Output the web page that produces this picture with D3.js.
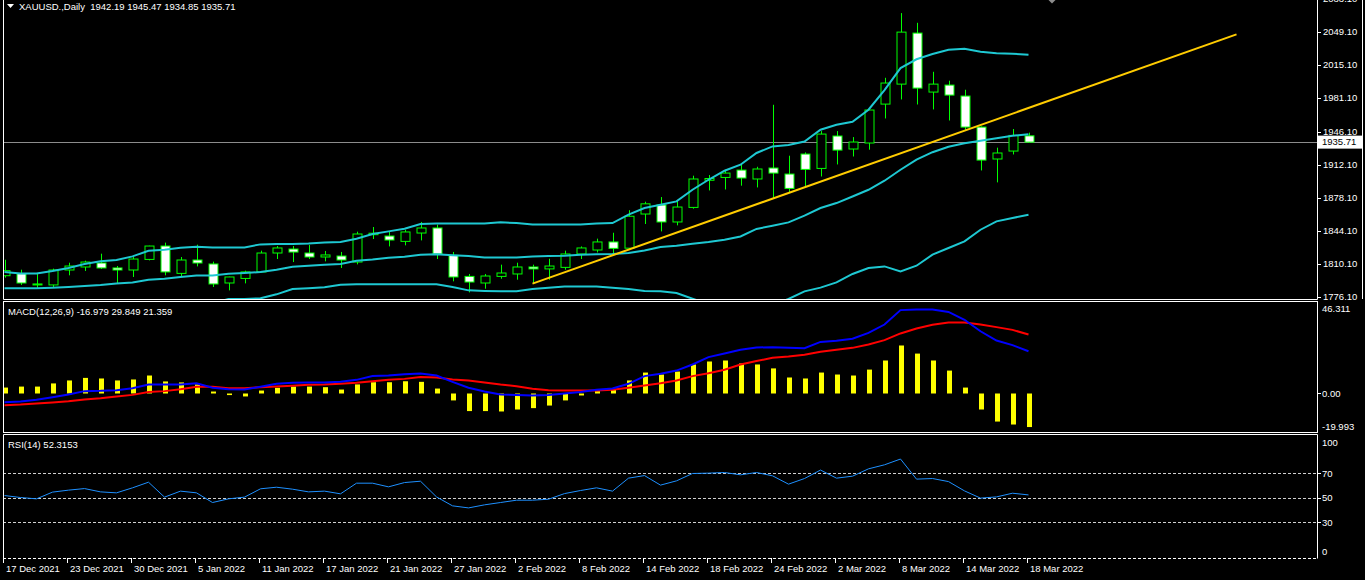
<!DOCTYPE html>
<html lang="en">
<head>
<meta charset="UTF-8">
<script src="https://cdn.jsdelivr.net/npm/d3@7"></script>
<title>XAUUSD Daily</title>
<style>
  body { margin: 0; background: #000; }
  svg text { font-family: "Liberation Sans", Arial, sans-serif; font-size: 9.5px; fill: #fff; }
</style>
</head>
<body>
<script>
// daily bars 17 Dec 2021 .. 18 Mar 2022
let opens  = [1798.0,1800.1,1789.5,1788.5,1803.9,1807.0,1811.1,1806.0,1803.9,1814.8,1828.6,1800.4,1814.2,1810.1,1790.5,1795.2,1801.9,1821.4,1825.5,1821.4,1817.3,1818.3,1812.1,1840.3,1838.9,1833.4,1842.0,1847.2,1819.0,1797.3,1790.5,1797.3,1799.8,1807.0,1805.0,1806.6,1820.4,1824.5,1832.8,1826.4,1861.6,1870.9,1853.4,1868.4,1896.4,1899.3,1906.9,1897.7,1909.0,1902.8,1923.4,1908.6,1942.0,1928.6,1934.8,1974.9,1995.5,2048.1,1987.3,1994.5,1983.2,1951.2,1918.3,1926.5,1942.19];
let highs  = [1814.5,1804.2,1800.1,1805.3,1811.4,1813.5,1820.7,1808.0,1817.3,1828.9,1832.1,1817.3,1830.0,1812.5,1797.0,1803.2,1823.8,1828.6,1828.6,1829.7,1823.5,1822.5,1843.4,1848.2,1843.1,1845.4,1853.4,1850.6,1822.5,1799.8,1799.8,1809.4,1811.4,1809.4,1815.5,1823.8,1828.2,1836.2,1842.3,1865.5,1874.3,1879.1,1875.3,1901.1,1901.8,1907.2,1913.1,1910.3,1974.2,1921.7,1925.1,1947.1,1947.1,1940.9,1969.1,2002.0,2068.7,2058.7,2008.2,1999.0,1989.7,1951.9,1930.0,1949.2,1945.47];
let lows   = [1796.0,1788.5,1785.4,1786.0,1798.4,1802.9,1805.0,1790.5,1796.7,1813.8,1798.4,1797.3,1807.6,1786.4,1782.9,1790.1,1801.7,1815.2,1812.1,1815.2,1812.8,1806.0,1809.7,1835.8,1828.2,1829.3,1834.4,1815.2,1792.2,1780.8,1784.6,1794.9,1793.9,1789.8,1793.9,1804.2,1815.2,1822.0,1820.4,1825.9,1851.3,1843.7,1849.9,1867.1,1885.9,1886.9,1890.8,1889.0,1878.1,1883.9,1890.0,1900.3,1912.7,1920.9,1927.9,1960.1,1979.7,1974.5,1969.4,1958.0,1948.5,1906.5,1894.2,1923.0,1934.85];
let closes = [1803.2,1790.5,1789.3,1803.9,1808.0,1812.1,1806.0,1803.9,1815.2,1828.6,1801.9,1814.2,1811.1,1789.5,1796.7,1801.9,1821.4,1826.6,1822.4,1817.3,1819.4,1814.2,1841.0,1841.8,1834.8,1843.1,1847.2,1820.4,1796.7,1791.5,1797.7,1800.8,1807.0,1805.0,1808.0,1820.4,1826.6,1832.8,1826.2,1859.3,1872.1,1853.4,1868.8,1897.7,1898.2,1903.8,1898.7,1908.0,1903.8,1888.0,1907.6,1944.0,1927.5,1935.8,1968.8,1996.6,2049.1,1991.4,1995.5,1984.2,1951.2,1917.2,1924.5,1942.6,1935.71];

// Bollinger bands (20,2)
let bbUpper  = [1801.9,1800.4,1800.4,1802.9,1806.0,1810.1,1812.8,1814.2,1817.9,1823.8,1824.8,1826.9,1827.9,1827.2,1827.2,1827.2,1830.3,1830.7,1830.7,1831.3,1832.3,1832.8,1836.2,1841.0,1843.7,1846.5,1851.3,1851.9,1851.9,1851.9,1851.9,1853.0,1852.3,1850.9,1850.9,1850.9,1850.9,1851.9,1852.3,1860.9,1867.8,1871.2,1874.6,1886.6,1896.9,1906.2,1912.4,1924.5,1931.3,1932.7,1936.4,1948.5,1953.6,1956.7,1969.1,1989.4,2012.0,2021.1,2026.5,2030.9,2031.9,2028.8,2027.3,2026.8,2025.7];
let bbMiddle = [1785.0,1785.0,1785.0,1785.7,1786.4,1787.4,1788.5,1790.1,1791.1,1793.9,1794.9,1796.7,1798.3,1798.3,1800.1,1800.8,1801.8,1804.2,1807.3,1808.3,1809.4,1810.1,1813.5,1814.8,1816.6,1817.6,1819.7,1820.0,1819.0,1818.3,1816.9,1816.9,1816.9,1817.9,1818.3,1818.6,1819.7,1820.0,1820.4,1821.4,1824.1,1827.6,1828.9,1831.0,1832.8,1835.1,1838.5,1846.2,1849.6,1853.0,1859.9,1867.8,1872.9,1879.7,1886.6,1895.9,1907.2,1917.6,1925.3,1930.9,1934.6,1937.1,1939.7,1942.3,1943.8];
let bbLower  = [1768.0,1770.0,1770.0,1768.5,1767.0,1765.0,1764.0,1766.0,1764.5,1764.0,1765.0,1766.5,1768.5,1769.5,1774.0,1774.0,1774.7,1778.8,1784.3,1785.0,1786.0,1788.8,1789.1,1789.1,1789.1,1789.1,1789.1,1789.1,1786.4,1782.9,1782.3,1781.9,1781.9,1784.3,1785.7,1787.0,1787.0,1787.0,1785.7,1784.3,1782.3,1781.9,1780.2,1774.3,1768.7,1764.0,1764.6,1767.9,1767.9,1774.0,1781.9,1785.7,1791.1,1799.8,1806.0,1807.6,1802.5,1808.3,1819.7,1826.6,1833.4,1845.4,1854.0,1857.5,1860.9];

// trend line: bar index and price at both ends
let trendBars   = [33, 77];
let trendPrices = [1789.8, 2046.8];

// MACD(12,26,9)
let macdHist   = [3.0,3.5,3.5,5.1,6.6,7.9,7.6,6.6,7.1,9.1,6.1,5.6,4.6,1.0,-0.8,-1.5,1.5,2.9,3.5,3.5,3.2,2.0,4.6,5.7,5.7,6.2,5.9,2.5,-3.5,-8.9,-8.9,-9.1,-8.1,-7.4,-6.1,-3.5,-1.0,1.2,1.9,6.6,10.6,9.6,11.1,14.7,16.2,16.7,15.2,14.7,12.7,8.1,7.6,10.6,9.6,9.1,12.1,16.7,24.3,20.2,16.7,11.6,3.0,-8.1,-14.2,-15.7,-16.979];
let macdMain   = [-4.4,-4.05,-3.2,-1.9,-0.5,1.2,1.35,1.7,2.7,4.55,4.55,4.55,5.2,2.9,2.2,2.0,3.4,4.9,5.4,5.6,5.6,5.9,6.9,8.8,9.1,9.8,10.1,9.1,5.9,2.9,1.0,-0.5,-0.8,-1.0,-0.8,0.0,0.8,1.9,2.5,4.9,8.8,10.0,11.6,14.7,18.4,20.2,22.1,23.3,23.4,23.1,22.9,26.1,26.7,27.7,30.7,34.9,42.2,42.5,42.5,41.3,37.3,31.5,26.8,24.5,21.359];
let macdSignal = [-5.9,-5.6,-5.1,-4.55,-3.9,-3.0,-2.4,-1.5,-0.7,0.8,1.2,2.2,3.4,3.4,2.7,2.7,3.2,3.5,3.9,4.4,4.55,4.9,5.4,6.2,6.9,7.4,8.3,8.1,7.1,6.6,5.6,4.55,3.7,2.4,1.7,1.5,1.5,1.5,1.9,2.9,4.05,5.2,6.6,8.8,10.3,12.0,14.7,16.4,18.05,18.7,19.6,21.1,22.1,23.1,24.8,27.0,30.4,32.9,34.75,35.9,35.9,34.9,33.6,32.2,29.849];

// RSI(14)
let rsiValues = [51.8,50.2,49.1,54.6,56.2,57.5,54.8,54.0,58.1,62.7,50.5,55.4,54.0,46.1,49.1,50.5,57.3,58.6,57.0,54.8,55.4,53.2,61.9,61.9,58.9,62.4,63.5,50.7,43.4,41.7,44.2,46.1,48.0,48.0,48.8,53.4,55.9,58.1,55.4,66.0,68.1,60.3,63.8,69.8,70.1,70.6,68.7,70.6,67.9,61.1,65.7,72.6,66.0,67.6,73.6,76.9,81.6,65.2,65.7,63.2,55.6,49.7,50.7,53.7,52.3153];
let rsiLevels = [70, 50, 30];
let rsiLabels = [100, 70, 50, 30, 0];

// axis labels
let dateLabels = ["17 Dec 2021","23 Dec 2021","30 Dec 2021","5 Jan 2022","11 Jan 2022","17 Jan 2022","21 Jan 2022","27 Jan 2022","2 Feb 2022","8 Feb 2022","14 Feb 2022","18 Feb 2022","24 Feb 2022","2 Mar 2022","8 Mar 2022","14 Mar 2022","18 Mar 2022"];
let priceTicks = [2083.10,2049.10,2015.10,1981.10,1946.10,1912.10,1878.10,1844.10,1810.10,1776.10];
let lastPrice = 1935.71;
let macdMax = 46.311, macdMin = -19.993;

var width = 1365, height = 580;
var left = 3, right = 1317;

var svg = d3.select("body").append("svg")
    .attr("width", width).attr("height", height)
    .style("background", "#000").style("display", "block");

var x  = d3.scaleLinear().domain([0, 64]).range([4.5, 1028.5]);
var yP = d3.scaleLinear().domain([1774.0, 2082.2]).range([299, 0]);
var yM = d3.scaleLinear().domain([macdMin, macdMax]).range([433, 302]);
var yR = d3.scaleLinear().domain([0, 100]).range([559, 436.5]);

var defs = svg.append("defs");
function clip(id, y0, y1) {
    defs.append("clipPath").attr("id", id).append("rect")
        .attr("x", left + 1).attr("y", y0).attr("width", right - left - 1).attr("height", y1 - y0);
    return svg.append("g").attr("clip-path", "url(#" + id + ")");
}
var gMain = clip("cMain", 0, 299);
var gMacd = clip("cMacd", 302, 432);
var gRsi  = clip("cRsi", 435, 558);

var idx = d3.range(opens.length);

// current price line
gMain.append("line")
    .attr("x1", left).attr("x2", right)
    .attr("y1", Math.round(yP(lastPrice)) + 0.5).attr("y2", Math.round(yP(lastPrice)) + 0.5)
    .attr("stroke", "#8c8c8c");

// candles
var candle = gMain.selectAll("g.c").data(idx).enter().append("g");
candle.append("line")
    .attr("x1", i => Math.round(x(i)) + 0.5).attr("x2", i => Math.round(x(i)) + 0.5)
    .attr("y1", i => yP(highs[i])).attr("y2", i => yP(lows[i]))
    .attr("stroke", "#00ff00");
candle.append("rect")
    .attr("x", i => Math.round(x(i)) - 4)
    .attr("width", 9)
    .attr("y", i => yP(Math.max(opens[i], closes[i])))
    .attr("height", i => Math.max(1, Math.abs(yP(opens[i]) - yP(closes[i]))))
    .attr("fill", i => closes[i] < opens[i] ? "#fff" : "#000")
    .attr("stroke", "#00ff00");

// bollinger bands
var bandLine = arr => d3.line().x((d, i) => x(i)).y(d => yP(d))(arr);
[bbUpper, bbMiddle, bbLower].forEach(arr => {
    gMain.append("path").attr("d", bandLine(arr))
        .attr("fill", "none").attr("stroke", "#1ec8d2").attr("stroke-width", 2);
});

// trend line
gMain.append("line")
    .attr("x1", x(trendBars[0])).attr("y1", yP(trendPrices[0]))
    .attr("x2", x(trendBars[1])).attr("y2", yP(trendPrices[1]))
    .attr("stroke", "#ffcc00").attr("stroke-width", 2);

// MACD
gMacd.selectAll("rect.h").data(idx).enter().append("rect")
    .attr("x", i => Math.round(x(i)) - 2)
    .attr("width", 5)
    .attr("y", i => yM(Math.max(0, macdHist[i])))
    .attr("height", i => Math.abs(yM(macdHist[i]) - yM(0)))
    .attr("fill", "#ffff00");
var macdLine = arr => d3.line().x((d, i) => x(i)).y(d => yM(d))(arr);
gMacd.append("path").attr("d", macdLine(macdSignal))
    .attr("fill", "none").attr("stroke", "#ff0000").attr("stroke-width", 2);
gMacd.append("path").attr("d", macdLine(macdMain))
    .attr("fill", "none").attr("stroke", "#0000ff").attr("stroke-width", 2);

// RSI
gRsi.selectAll("line.lv").data(rsiLevels).enter().append("line")
    .attr("x1", left).attr("x2", right)
    .attr("y1", d => Math.round(yR(d)) + 0.5).attr("y2", d => Math.round(yR(d)) + 0.5)
    .attr("stroke", "#d0d0d0").attr("stroke-dasharray", "3,2");
gRsi.append("path")
    .attr("d", d3.line().x((d, i) => x(i)).y(d => yR(d))(rsiValues))
    .attr("fill", "none").attr("stroke", "#1e90ff").attr("stroke-width", 1);

// frames
var frame = svg.append("g").attr("fill", "none").attr("stroke", "#fff");
frame.append("path").attr("d", "M3.5,0V299.5H1317.5V0");
frame.append("rect").attr("x", 3.5).attr("y", 301.5).attr("width", 1314).attr("height", 131);
frame.append("path").attr("d", "M3.5,558.5V434.5H1317.5V558.5");
frame.append("line").attr("x1", 3).attr("x2", 1318).attr("y1", 558.5).attr("y2", 558.5)
    .attr("stroke-dasharray", "3,2");
frame.append("line").attr("x1", 1362.5).attr("x2", 1362.5).attr("y1", 0).attr("y2", 299);

// price axis
var pa = svg.append("g");
pa.selectAll("line").data(priceTicks).enter().append("line")
    .attr("x1", right).attr("x2", right + 4)
    .attr("y1", d => Math.round(yP(d)) + 0.5).attr("y2", d => Math.round(yP(d)) + 0.5)
    .attr("stroke", "#fff");
pa.selectAll("text").data(priceTicks).enter().append("text")
    .attr("x", right + 6).attr("y", d => yP(d)).attr("dy", "0.35em")
    .text(d => d.toFixed(2));
pa.append("rect")
    .attr("x", right + 1).attr("y", yP(lastPrice) - 6.5)
    .attr("width", 44).attr("height", 13).attr("fill", "#fff");
pa.append("text")
    .attr("x", right + 5).attr("y", yP(lastPrice)).attr("dy", "0.35em")
    .style("fill", "#000").text(lastPrice.toFixed(2));

// MACD axis
var ma = svg.append("g");
ma.append("line").attr("x1", right).attr("x2", right + 4)
    .attr("y1", Math.round(yM(0)) + 0.5).attr("y2", Math.round(yM(0)) + 0.5).attr("stroke", "#fff");
ma.append("text").attr("x", right + 5).attr("y", yM(macdMax) + 7).attr("dy", "0.35em").text(macdMax.toFixed(3));
ma.append("text").attr("x", right + 5).attr("y", yM(0)).attr("dy", "0.35em").text("0.00");
ma.append("text").attr("x", right + 5).attr("y", yM(macdMin) - 6).attr("dy", "0.35em").text(macdMin.toFixed(3));

// RSI axis
var ra = svg.append("g");
ra.selectAll("line").data(rsiLevels).enter().append("line")
    .attr("x1", right).attr("x2", right + 4)
    .attr("y1", d => Math.round(yR(d)) + 0.5).attr("y2", d => Math.round(yR(d)) + 0.5)
    .attr("stroke", "#fff");
ra.selectAll("text").data(rsiLabels).enter().append("text")
    .attr("x", right + 5)
    .attr("y", d => d === 100 ? yR(d) + 6 : d === 0 ? yR(d) - 7 : yR(d))
    .attr("dy", "0.35em")
    .text(d => d);

// time axis, a label every 4 bars
var ta = svg.append("g");
var tickBars = dateLabels.map((d, k) => k * 4);
ta.selectAll("line").data(tickBars).enter().append("line")
    .attr("x1", i => Math.round(x(i)) - 1.5).attr("x2", i => Math.round(x(i)) - 1.5)
    .attr("y1", 558).attr("y2", 563).attr("stroke", "#fff");
ta.selectAll("text").data(dateLabels).enter().append("text")
    .attr("x", (d, k) => Math.round(x(tickBars[k])) + 1)
    .attr("y", 571.5)
    .text(d => d);

// titles
svg.append("path").attr("d", "M7,4H14L10.5,8Z").attr("fill", "#fff");
svg.append("text").attr("x", 19).attr("y", 9.5)
    .text("XAUUSD.,Daily  1942.19 1945.47 1934.85 1935.71").attr("xml:space", "preserve");
svg.append("text").attr("x", 8).attr("y", 315).text("MACD(12,26,9) -16.979 29.849 21.359");
svg.append("text").attr("x", 8).attr("y", 448).text("RSI(14) 52.3153");

// chart shift marker
svg.append("path").attr("d", "M1048.5,0H1055.5L1052,3.5Z").attr("fill", "#8c8c8c");
</script>
</body>
</html>
